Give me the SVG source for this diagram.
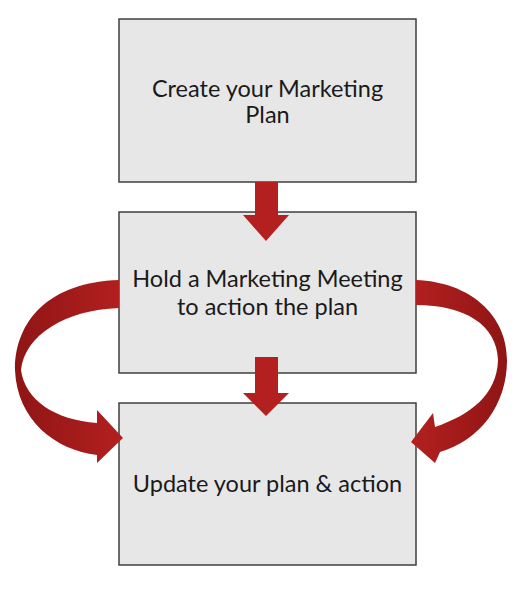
<svg xmlns="http://www.w3.org/2000/svg" width="522" height="592" viewBox="0 0 522 592">
<defs>
<style>
.box{fill:#e8e7e8;stroke:#3f3f3f;stroke-width:1.5}
.lbl{font-family:Lato,"Open Sans",sans-serif;font-size:23.5px;fill:#1a1a1a;text-anchor:middle}
.arr{fill:#b3201f}
</style>
<linearGradient id="gl" x1="0" y1="0" x2="1" y2="0">
<stop offset="0" stop-color="#8f1515"/><stop offset="1" stop-color="#b3201f"/>
</linearGradient>
<linearGradient id="gr" x1="1" y1="0" x2="0" y2="0">
<stop offset="0" stop-color="#8f1515"/><stop offset="1" stop-color="#b3201f"/>
</linearGradient>
</defs>
<rect width="522" height="592" fill="#ffffff"/>
<g id="node1">
<rect class="box" x="119" y="19" width="297" height="163"/>
<text class="lbl" x="267.5" y="97">Create your Marketing</text>
<text class="lbl" x="267.5" y="123">Plan</text>
</g>
<g id="node2">
<rect class="box" x="119" y="212" width="297" height="161"/>
<text class="lbl" x="267.5" y="287">Hold a Marketing Meeting</text>
<text class="lbl" x="267.5" y="315">to action the plan</text>
</g>
<g id="node3">
<rect class="box" x="119" y="403" width="297" height="162"/>
<text class="lbl" x="267.5" y="492">Update your plan &amp; action</text>
</g>
<g id="connectors">
<polygon class="arr" points="255,182 278,182 278,215 289,215 266,241 243,215 255,215"/>
<polygon class="arr" points="255,357 278,357 278,393 289,393 266,416 243,393 255,393"/>
<path fill="url(#gl)" d="M119,280 C50,282 15,320 15,370 C17,420 55,450 97,455 L97,463 L123,438 L97,410 L97,423 C55,420 25,400 21,370 C25,335 65,310 119,308 Z"/>
<path fill="url(#gr)" d="M416,280 C470,282 507,315 507,360 C507,405 480,440 440,452 L435,463 L411,442 L433,413 L435,427 C470,415 497,395 498,360 C497,325 465,305 416,305 Z"/>
</g>
</svg>
